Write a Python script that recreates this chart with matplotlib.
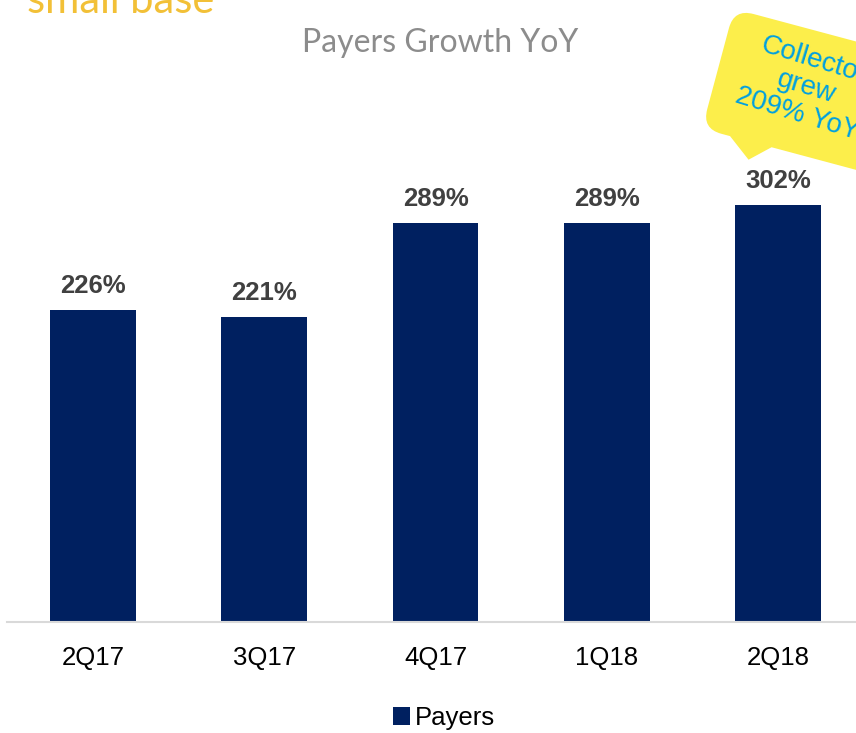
import matplotlib.pyplot as plt
from matplotlib.path import Path
from matplotlib.patches import PathPatch
import matplotlib.transforms as mtransforms
import numpy as np

quarters = ['2Q17', '3Q17', '4Q17', '1Q18', '2Q18']
payers_growth = [226, 221, 289, 289, 302]
bar_labels = ['226%', '221%', '289%', '289%', '302%']

W, H = 856, 733
fig = plt.figure(figsize=(W / 100, H / 100), dpi=100)
ax = fig.add_axes([7.4 / W, 111 / H, 856.2 / W, 483 / H])

x = np.arange(len(quarters))
ax.bar(x, payers_growth, width=0.5, color='#002060', label='Payers', zorder=2)
for xi, v, lab in zip(x, payers_growth, bar_labels):
    ax.annotate(lab, (xi, v), xytext=(0, 12), textcoords='offset pixels',
                ha='center', va='bottom', fontsize=18.5, fontweight='bold',
                color='#404040', family='Liberation Sans')

ax.set_xlim(-0.5, len(quarters) - 0.5)
ax.set_ylim(0, 350)
ax.set_xticks(x)
ax.set_xticklabels(quarters, fontsize=18.5, family='Liberation Sans', color='#000000')
ax.tick_params(axis='x', length=0, pad=17)
ax.set_yticks([])
for s in ['top', 'right', 'left']:
    ax.spines[s].set_visible(False)
ax.spines['bottom'].set_color('#D9D9D9')
ax.spines['bottom'].set_linewidth(1.5)
ax.patch.set_alpha(0)

fig.legend(loc='center', bbox_to_anchor=(444 / W, (H - 718) / H), frameon=False,
           handlelength=0.65, handleheight=0.65, handletextpad=0.2,
           prop={'family': 'Liberation Sans', 'size': 18.5})

fig.text(440 / W, (H - 43) / H, 'Payers Growth YoY', ha='center', va='center',
         fontsize=23, color='#8C8C8C', family='Lato')
fig.text(27 / W, (H - 13) / H, 'small base', ha='left', va='baseline',
         fontsize=30, color='#F2C037', family='Lato')

# speech-bubble callout (partly outside the figure, as in the slide)
px = mtransforms.Affine2D().scale(1 / W, 1 / H) + fig.transFigure
cx, cy = 805, H - 92
rot = mtransforms.Affine2D().rotate_deg(-15).translate(cx, cy) + px
hw, hh, r = 90, 62, 20
verts = [(-hw + r, hh), (hw - r, hh), (hw, hh), (hw, hh - r),
         (hw, -hh + r), (hw, -hh), (hw - r, -hh),
         (-18, -hh), (-37, -80), (-61, -hh),
         (-hw + r, -hh), (-hw, -hh), (-hw, -hh + r),
         (-hw, hh - r), (-hw, hh), (-hw + r, hh), (-hw + r, hh)]
codes = [Path.MOVETO, Path.LINETO, Path.CURVE3, Path.CURVE3,
         Path.LINETO, Path.CURVE3, Path.CURVE3,
         Path.LINETO, Path.LINETO, Path.LINETO,
         Path.LINETO, Path.CURVE3, Path.CURVE3,
         Path.LINETO, Path.CURVE3, Path.CURVE3, Path.CLOSEPOLY]
bubble = PathPatch(Path(verts, codes), facecolor='#FCEE4B', edgecolor='none',
                   transform=rot, zorder=5)
fig.patches.append(bubble)
fig.text(806 / W, (H - 87) / H, 'Collector\ngrew\n209% YoY', ha='center', va='center',
         rotation=-17, fontsize=20, color='#00A0E0', family='Liberation Sans',
         linespacing=1.1, rotation_mode='anchor', multialignment='center', zorder=6)

fig.savefig('out.png', dpi=100)
